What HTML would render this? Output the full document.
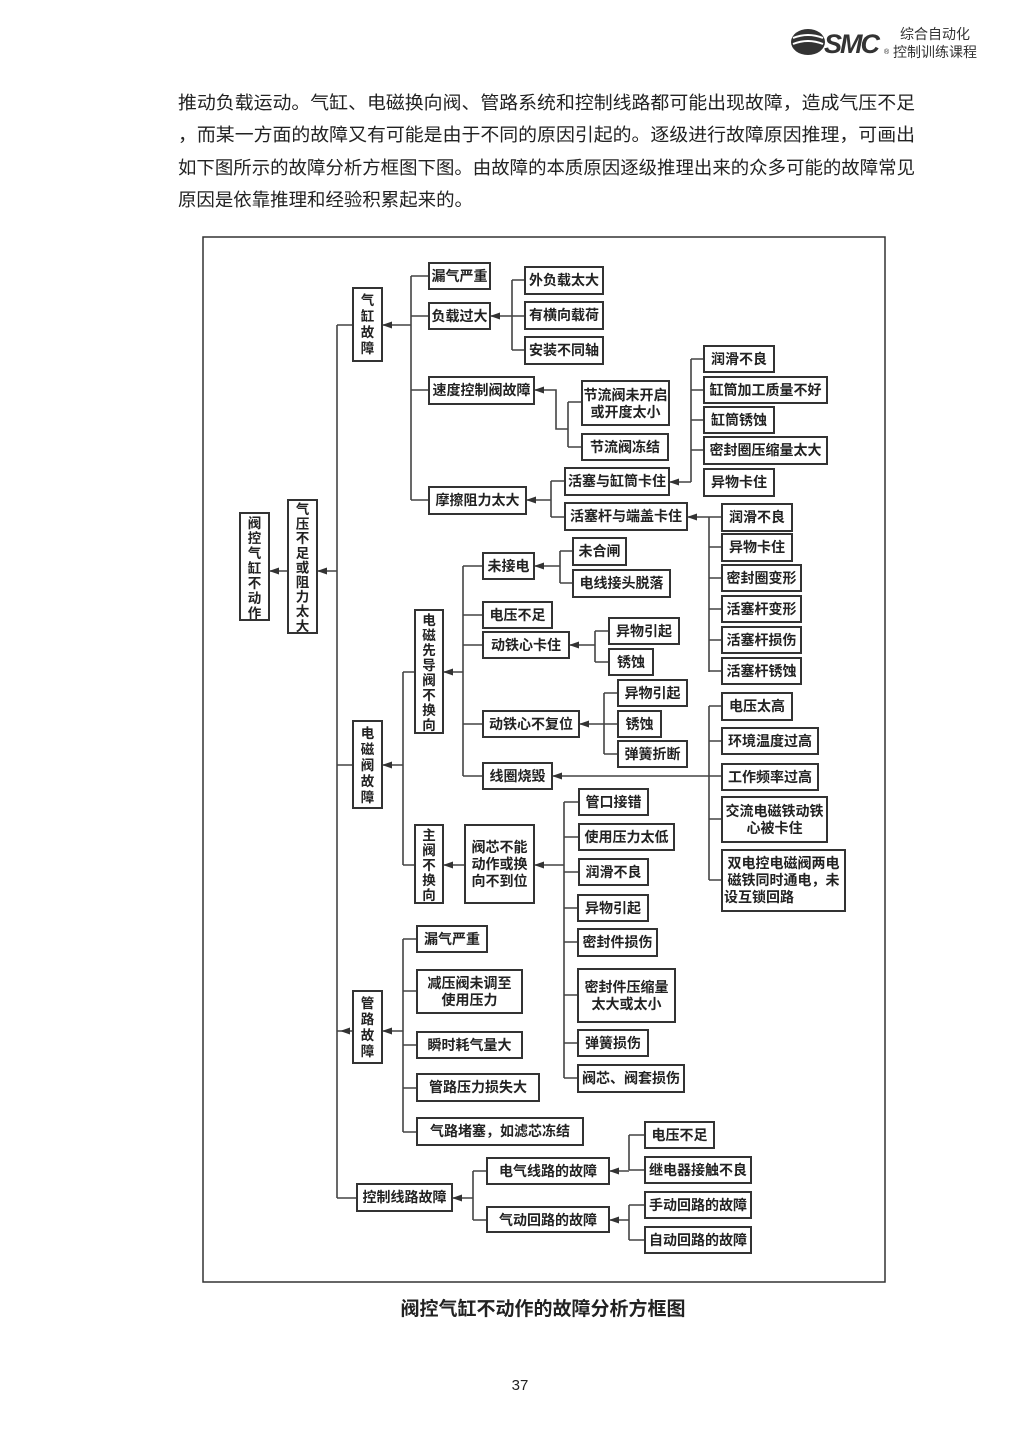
<!DOCTYPE html>
<html><head><meta charset="utf-8"><style>
html,body{margin:0;padding:0;background:#fff}
svg{display:block}
text{font-family:"Liberation Sans","Noto Sans CJK SC",sans-serif;fill:#222}
.b{fill:#fff;stroke:#333;stroke-width:2}
.l{fill:none;stroke:#444;stroke-width:1.6}
.t{font-size:14px;font-weight:bold;text-anchor:middle}
.v{font-size:13.5px;font-weight:bold;text-anchor:middle}
.a{fill:#333}
</style></head><body>
<svg width="1024" height="1449" viewBox="0 0 1024 1449" xmlns="http://www.w3.org/2000/svg">
<g>
<ellipse cx="808" cy="42" rx="17" ry="13" fill="#333"/>
<path d="M793 38 Q808 32 823 38 M793 44 Q808 38 823 44" stroke="#fff" stroke-width="2" fill="none"/>
<text x="824" y="53" style="font-size:27px;font-weight:bold;font-style:italic;fill:#333;letter-spacing:-2px">SMC</text>
<text x="884" y="54" style="font-size:7px">®</text>
<text x="900" y="39" style="font-size:14px;fill:#333">综合自动化</text>
<text x="893" y="57" style="font-size:14px;fill:#333">控制训练课程</text>
</g>
<g style="font-size:18px">
<text x="178" y="109" textLength="737" lengthAdjust="spacingAndGlyphs">推动负载运动。气缸、电磁换向阀、管路系统和控制线路都可能出现故障，造成气压不足</text>
<text x="178" y="141" textLength="737" lengthAdjust="spacingAndGlyphs">，而某一方面的故障又有可能是由于不同的原因引起的。逐级进行故障原因推理，可画出</text>
<text x="178" y="174" textLength="737" lengthAdjust="spacingAndGlyphs">如下图所示的故障分析方框图下图。由故障的本质原因逐级推理出来的众多可能的故障常见</text>
<text x="178" y="206" textLength="295" lengthAdjust="spacingAndGlyphs">原因是依靠推理和经验积累起来的。</text>
</g>
<rect x="203" y="237" width="682" height="1045" fill="none" stroke="#333" stroke-width="1.5"/>

<path class="l" d="M269 571H288 M317 571H337 M337 325V1198 M337 325H353 M337 765H353 M337 1031H353 M337 1198H357
M382 325H411 M411 276V500 M411 276H429 M411 316H429 M411 390H429 M411 500H429
M490 316H512 M512 280V350 M512 280H525 M512 316H525 M512 350H525
M534 390H556V429H568 M568 402V447 M568 402H582 M568 447H582
M526 500H551 M551 481V517 M551 481H565 M551 517H565
M669 482H691 M691 359V482 M691 359H704 M691 390H704 M691 420H704 M691 450H704
M687 517H709 M709 517V672 M709 547H722 M709 578H722 M709 609H722 M709 640H722 M709 671H722 M709 517H722
M382 765H403 M403 672V865 M403 672H415 M403 865H415
M443 672H463 M463 566V776 M463 566H483 M463 615H483 M463 645H483 M463 724H483 M463 776H483
M534 566H560 M560 551V583 M560 551H573 M560 583H573
M569 645H595 M595 631V662 M595 631H609 M595 662H609
M579 724H604 M604 693V754 M604 693H618 M604 724H618 M604 754H618
M552 776H722 M709 706V880 M709 706H722 M709 741H722 M709 819H722 M709 880H722
M443 865H465 M534 865H564 M564 802V1078 M564 802H579 M564 837H579 M564 872H579 M564 908H579 M564 942H579 M564 995H579 M564 1043H579 M564 1078H579
M382 1031H403 M403 939V1132 M403 939H417 M403 991H417 M403 1045H417 M403 1088H417 M403 1132H417
M452 1198H473 M473 1171V1220 M473 1171H487 M473 1220H487
M609 1171H629 M629 1135V1170 M629 1135H645 M629 1170H645
M609 1220H629 M629 1205V1240 M629 1205H645 M629 1240H645"/>
<g class="a">
<polygon points="269,571 279,567.5 279,574.5"/>
<polygon points="317,571 327,567.5 327,574.5"/>
<polygon points="382,325 392,321.5 392,328.5"/>
<polygon points="490,316 500,312.5 500,319.5"/>
<polygon points="534,390 544,386.5 544,393.5"/>
<polygon points="526,500 536,496.5 536,503.5"/>
<polygon points="669,482 679,478.5 679,485.5"/>
<polygon points="687,517 697,513.5 697,520.5"/>
<polygon points="382,765 392,761.5 392,768.5"/>
<polygon points="443,672 453,668.5 453,675.5"/>
<polygon points="534,566 544,562.5 544,569.5"/>
<polygon points="569,645 579,641.5 579,648.5"/>
<polygon points="579,724 589,720.5 589,727.5"/>
<polygon points="552,776 562,772.5 562,779.5"/>
<polygon points="443,865 453,861.5 453,868.5"/>
<polygon points="534,865 544,861.5 544,868.5"/>
<polygon points="382,1031 392,1027.5 392,1034.5"/>
<polygon points="340,1031 350,1027.5 350,1034.5"/>
<polygon points="452,1198 462,1194.5 462,1201.5"/>
<polygon points="609,1171 619,1167.5 619,1174.5"/>
<polygon points="609,1220 619,1216.5 619,1223.5"/>
</g>

<rect class="b" x="240" y="513" width="29" height="107"/>
<text class="v" x="254.5" y="528"><tspan x="254.5">阀</tspan><tspan x="254.5" dy="15">控</tspan><tspan x="254.5" dy="15">气</tspan><tspan x="254.5" dy="15">缸</tspan><tspan x="254.5" dy="15">不</tspan><tspan x="254.5" dy="15">动</tspan><tspan x="254.5" dy="15">作</tspan></text>
<rect class="b" x="288" y="500" width="29" height="133"/>
<text class="v" x="302.5" y="514"><tspan x="302.5">气</tspan><tspan x="302.5" dy="14.6">压</tspan><tspan x="302.5" dy="14.6">不</tspan><tspan x="302.5" dy="14.6">足</tspan><tspan x="302.5" dy="14.6">或</tspan><tspan x="302.5" dy="14.6">阻</tspan><tspan x="302.5" dy="14.6">力</tspan><tspan x="302.5" dy="14.6">太</tspan><tspan x="302.5" dy="14.6">大</tspan></text>
<rect class="b" x="353" y="288" width="29" height="73"/>
<text class="v" x="367.5" y="305"><tspan x="367.5">气</tspan><tspan x="367.5" dy="16">缸</tspan><tspan x="367.5" dy="16">故</tspan><tspan x="367.5" dy="16">障</tspan></text>
<rect class="b" x="415" y="610" width="28" height="123"/>
<text class="v" x="429" y="625"><tspan x="429">电</tspan><tspan x="429" dy="15">磁</tspan><tspan x="429" dy="15">先</tspan><tspan x="429" dy="15">导</tspan><tspan x="429" dy="15">阀</tspan><tspan x="429" dy="15">不</tspan><tspan x="429" dy="15">换</tspan><tspan x="429" dy="15">向</tspan></text>
<rect class="b" x="353" y="721" width="29" height="87"/>
<text class="v" x="367.5" y="738"><tspan x="367.5">电</tspan><tspan x="367.5" dy="16">磁</tspan><tspan x="367.5" dy="16">阀</tspan><tspan x="367.5" dy="16">故</tspan><tspan x="367.5" dy="16">障</tspan></text>
<rect class="b" x="415" y="825" width="28" height="78"/>
<text class="v" x="429" y="840"><tspan x="429">主</tspan><tspan x="429" dy="15">阀</tspan><tspan x="429" dy="15">不</tspan><tspan x="429" dy="15">换</tspan><tspan x="429" dy="15">向</tspan></text>
<rect class="b" x="353" y="991" width="29" height="72"/>
<text class="v" x="367.5" y="1008"><tspan x="367.5">管</tspan><tspan x="367.5" dy="16">路</tspan><tspan x="367.5" dy="16">故</tspan><tspan x="367.5" dy="16">障</tspan></text>

<g>
<rect class="b" x="429" y="263" width="61" height="26"/><text class="t" x="459.5" y="281">漏气严重</text>
<rect class="b" x="429" y="303" width="61" height="26"/><text class="t" x="459.5" y="321">负载过大</text>
<rect class="b" x="429" y="377" width="105" height="27"/><text class="t" x="481.5" y="395">速度控制阀故障</text>
<rect class="b" x="429" y="487" width="97" height="27"/><text class="t" x="477.5" y="505">摩擦阻力太大</text>
<rect class="b" x="525" y="267" width="78" height="27"/><text class="t" x="564" y="285">外负载太大</text>
<rect class="b" x="525" y="302" width="78" height="27"/><text class="t" x="564" y="320">有横向载荷</text>
<rect class="b" x="525" y="337" width="78" height="27"/><text class="t" x="564" y="355">安装不同轴</text>
<rect class="b" x="582" y="381" width="87" height="44"/><text class="t" x="625.5" y="400">节流阀未开启</text><text class="t" x="625.5" y="417">或开度太小</text>
<rect class="b" x="582" y="434" width="86" height="26"/><text class="t" x="625" y="452">节流阀冻结</text>
<rect class="b" x="565" y="468" width="104" height="27"/><text class="t" x="617" y="486">活塞与缸筒卡住</text>
<rect class="b" x="565" y="503" width="122" height="27"/><text class="t" x="626" y="521">活塞杆与端盖卡住</text>
<rect class="b" x="704" y="346" width="70" height="26"/><text class="t" x="739" y="364">润滑不良</text>
<rect class="b" x="704" y="377" width="123" height="26"/><text class="t" x="765.5" y="395">缸筒加工质量不好</text>
<rect class="b" x="704" y="407" width="70" height="26"/><text class="t" x="739" y="425">缸筒锈蚀</text>
<rect class="b" x="704" y="437" width="123" height="27"/><text class="t" x="765.5" y="455">密封圈压缩量太大</text>
<rect class="b" x="704" y="469" width="70" height="27"/><text class="t" x="739" y="487">异物卡住</text>
<rect class="b" x="722" y="504" width="70" height="27"/><text class="t" x="757" y="522">润滑不良</text>
<rect class="b" x="722" y="534" width="70" height="27"/><text class="t" x="757" y="552">异物卡住</text>
<rect class="b" x="722" y="565" width="79" height="26"/><text class="t" x="761.5" y="583">密封圈变形</text>
<rect class="b" x="722" y="596" width="79" height="26"/><text class="t" x="761.5" y="614">活塞杆变形</text>
<rect class="b" x="722" y="627" width="79" height="26"/><text class="t" x="761.5" y="645">活塞杆损伤</text>
<rect class="b" x="722" y="658" width="79" height="26"/><text class="t" x="761.5" y="676">活塞杆锈蚀</text>

<rect class="b" x="483" y="553" width="51" height="26"/><text class="t" x="508.5" y="571">未接电</text>
<rect class="b" x="483" y="602" width="69" height="26"/><text class="t" x="517.5" y="620">电压不足</text>
<rect class="b" x="483" y="632" width="86" height="26"/><text class="t" x="526" y="650">动铁心卡住</text>
<rect class="b" x="483" y="711" width="96" height="26"/><text class="t" x="531" y="729">动铁心不复位</text>
<rect class="b" x="483" y="763" width="69" height="26"/><text class="t" x="517.5" y="781">线圈烧毁</text>
<rect class="b" x="573" y="538" width="53" height="27"/><text class="t" x="599.5" y="556">未合闸</text>
<rect class="b" x="573" y="570" width="97" height="27"/><text class="t" x="621.5" y="588">电线接头脱落</text>
<rect class="b" x="609" y="618" width="70" height="26"/><text class="t" x="644" y="636">异物引起</text>
<rect class="b" x="609" y="649" width="44" height="26"/><text class="t" x="631" y="667">锈蚀</text>
<rect class="b" x="618" y="680" width="69" height="26"/><text class="t" x="652.5" y="698">异物引起</text>
<rect class="b" x="618" y="711" width="43" height="26"/><text class="t" x="639.5" y="729">锈蚀</text>
<rect class="b" x="618" y="741" width="69" height="26"/><text class="t" x="652.5" y="759">弹簧折断</text>
<rect class="b" x="722" y="693" width="70" height="27"/><text class="t" x="757" y="711">电压太高</text>
<rect class="b" x="722" y="728" width="96" height="26"/><text class="t" x="770" y="746">环境温度过高</text>
<rect class="b" x="722" y="764" width="96" height="26"/><text class="t" x="770" y="782">工作频率过高</text>
<rect class="b" x="722" y="797" width="105" height="45"/><text class="t" x="774.5" y="816">交流电磁铁动铁</text><text class="t" x="774.5" y="833">心被卡住</text>
<rect class="b" x="722" y="850" width="123" height="61"/><text class="t" x="783.5" y="868">双电控电磁阀两电</text><text class="t" x="783.5" y="885">磁铁同时通电，未</text><text class="t" x="759" y="902">设互锁回路</text>

<rect class="b" x="465" y="825" width="69" height="78"/><text class="t" x="499.5" y="852">阀芯不能</text><text class="t" x="499.5" y="869">动作或换</text><text class="t" x="499.5" y="886">向不到位</text>
<rect class="b" x="579" y="789" width="69" height="26"/><text class="t" x="613.5" y="807">管口接错</text>
<rect class="b" x="579" y="824" width="95" height="26"/><text class="t" x="626.5" y="842">使用压力太低</text>
<rect class="b" x="579" y="859" width="69" height="26"/><text class="t" x="613.5" y="877">润滑不良</text>
<rect class="b" x="578" y="895" width="70" height="26"/><text class="t" x="613" y="913">异物引起</text>
<rect class="b" x="578" y="929" width="79" height="27"/><text class="t" x="617.5" y="947">密封件损伤</text>
<rect class="b" x="578" y="969" width="97" height="53"/><text class="t" x="626.5" y="992">密封件压缩量</text><text class="t" x="626.5" y="1009">太大或太小</text>
<rect class="b" x="578" y="1030" width="70" height="26"/><text class="t" x="613" y="1048">弹簧损伤</text>
<rect class="b" x="578" y="1065" width="106" height="27"/><text class="t" x="631" y="1083">阀芯、阀套损伤</text>

<rect class="b" x="417" y="926" width="70" height="26"/><text class="t" x="452" y="944">漏气严重</text>
<rect class="b" x="417" y="970" width="105" height="43"/><text class="t" x="469.5" y="988">减压阀未调至</text><text class="t" x="469.5" y="1005">使用压力</text>
<rect class="b" x="417" y="1032" width="105" height="26"/><text class="t" x="469.5" y="1050">瞬时耗气量大</text>
<rect class="b" x="417" y="1074" width="122" height="27"/><text class="t" x="478" y="1092">管路压力损失大</text>
<rect class="b" x="417" y="1118" width="166" height="27"/><text class="t" x="500" y="1136">气路堵塞，如滤芯冻结</text>

<rect class="b" x="357" y="1184" width="95" height="27"/><text class="t" x="404.5" y="1202">控制线路故障</text>
<rect class="b" x="487" y="1158" width="122" height="26"/><text class="t" x="548" y="1176">电气线路的故障</text>
<rect class="b" x="487" y="1207" width="122" height="25"/><text class="t" x="548" y="1225">气动回路的故障</text>
<rect class="b" x="645" y="1122" width="69" height="26"/><text class="t" x="679.5" y="1140">电压不足</text>
<rect class="b" x="645" y="1157" width="106" height="26"/><text class="t" x="698" y="1175">继电器接触不良</text>
<rect class="b" x="645" y="1192" width="106" height="26"/><text class="t" x="698" y="1210">手动回路的故障</text>
<rect class="b" x="645" y="1227" width="106" height="26"/><text class="t" x="698" y="1245">自动回路的故障</text>
</g>

<text x="543" y="1315" style="font-size:19px;font-weight:bold;text-anchor:middle">阀控气缸不动作的故障分析方框图</text>
<text x="520" y="1390" style="font-size:15px;text-anchor:middle">37</text>
</svg>
</body></html>
